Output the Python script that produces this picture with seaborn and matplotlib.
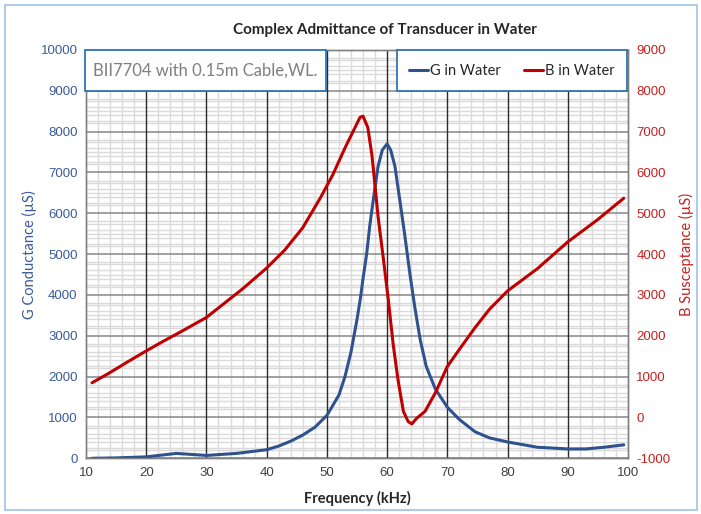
import matplotlib
matplotlib.use("Agg")
import matplotlib.pyplot as plt
from matplotlib.patches import Rectangle
from matplotlib.ticker import FixedLocator, MultipleLocator
from matplotlib.lines import Line2D
from matplotlib.font_manager import FontProperties
import seaborn as sns
import pandas as pd

# G (conductance) in water, uS
g_freq = [11, 15, 20, 25, 30, 35, 40, 42, 44, 46, 48, 50, 52, 53, 54, 55, 55.6, 56,
          56.6, 57.1, 57.7, 58.5, 59.2, 60, 60.6, 61.3, 62.1, 62.9, 63.8, 64.6, 65.5,
          66.5, 68, 70, 72, 74.6, 77, 80, 85, 90, 93, 96, 99.3]
g_vals = [0, 10, 35, 120, 70, 120, 210, 300, 420, 570, 760, 1050, 1550, 2000, 2600,
          3400, 3950, 4400, 5000, 5670, 6330, 7150, 7550, 7700, 7550, 7150, 6330, 5500,
          4500, 3700, 2900, 2250, 1700, 1250, 950, 650, 500, 400, 270, 230, 230, 270, 330]

# B (susceptance) in water, uS
b_freq = [11, 14, 17, 20, 23, 26, 30, 33, 36, 40, 43, 46, 49, 51, 53, 54.5, 55.5, 56,
          56.8, 57.5, 58.5, 59.4, 60.2, 61, 61.8, 62.7, 63.5, 64.1, 64.9, 66.3, 68, 70,
          72.4, 74.6, 77, 80, 85, 90, 95, 99.3]
b_vals = [850, 1100, 1370, 1630, 1880, 2120, 2450, 2800, 3150, 3660, 4100, 4650, 5400,
          5950, 6600, 7050, 7350, 7380, 7100, 6400, 4920, 3860, 2880, 1800, 930, 150,
          -100, -160, -20, 150, 600, 1250, 1750, 2200, 2650, 3100, 3650, 4300, 4850, 5370]

title = "Complex Admittance of Transducer in Water"
note = "BII7704 with 0.15m Cable,WL."

g_color = "#2f528f"
b_color = "#c00000"
box_edge = "#2e75b6"
g_text = "#3b5b9a"
b_text = "#c62020"

sns.set_style("white")
plt.rcParams['font.family'] = ['Lato', 'DejaVu Sans']
plt.rcParams['axes.unicode_minus'] = False

W, H = 701, 514
fig = plt.figure(figsize=(W / 100, H / 100), dpi=100)
ax = fig.add_axes([86 / W, 1 - 458.3 / H, (628 - 86) / W, (458.3 - 50) / H])
ax2 = ax.twinx()

df_g = pd.DataFrame({"f": g_freq, "v": g_vals})
df_b = pd.DataFrame({"f": b_freq, "v": b_vals})
sns.lineplot(data=df_g, x="f", y="v", ax=ax, color=g_color, linewidth=2.2, sort=False, zorder=3)
sns.lineplot(data=df_b, x="f", y="v", ax=ax2, color=b_color, linewidth=2.2, sort=False, zorder=3)

ax.set_xlim(10, 100)
ax.set_ylim(0, 10000)
ax2.set_ylim(-1000, 9000)
ax.xaxis.set_major_locator(MultipleLocator(10))
ax.xaxis.set_minor_locator(MultipleLocator(2))
ax.yaxis.set_major_locator(MultipleLocator(1000))
ax2.yaxis.set_major_locator(MultipleLocator(1000))
minor_y = sorted({v for v in range(0, 10001, 250)} | {v for v in range(0, 10001, 200)})
ax.yaxis.set_minor_locator(FixedLocator(minor_y))

ax.set_axisbelow(True)
ax.grid(axis='x', which='minor', color='#dadada', linewidth=1)
ax.grid(axis='y', which='minor', color='#dadada', linewidth=1)
ax.grid(axis='y', which='major', color='#868686', linewidth=1.1)
ax2.grid(False)
# dark vertical major grid drawn above the light horizontal grid
for xv in ax.get_xticks():
    if 10 < xv < 100:
        ax.axvline(xv, color='#2a2a2a', linewidth=1, zorder=1)

tick_fp = FontProperties(family=['Liberation Sans', 'DejaVu Sans'], size=9.5)
ax.tick_params(which='both', length=0, pad=6)
ax2.tick_params(which='both', length=0, pad=6)
for t in ax.get_xticklabels():
    t.set_fontproperties(tick_fp)
    t.set_color('#404040')
for t in ax.get_yticklabels():
    t.set_fontproperties(tick_fp)
    t.set_color(g_text)
for t in ax2.get_yticklabels():
    t.set_fontproperties(tick_fp)
    t.set_color(b_text)

for a in (ax, ax2):
    for s in a.spines.values():
        s.set_color('#808080')
        s.set_linewidth(1)

ax.set_xlabel("Frequency (kHz)", fontsize=10.5, fontweight='bold', labelpad=9)
ax.set_ylabel("G Conductance (µS)", fontsize=10.5, color=g_text)
ax.yaxis.set_label_coords(-0.09, 0.5)
ax2.set_ylabel("B Susceptance (µS)", fontsize=10.5, color=b_text)
ax2.yaxis.set_label_coords(1.094, 0.5)

fig.text(385 / W, 1 - 30 / H, title, ha='center', va='center', fontsize=11, fontweight='bold')

# outer frame
fig.patches.append(Rectangle((5 / W, 1 - 510 / H), 692 / W, 505 / H, transform=fig.transFigure,
                             fill=False, edgecolor='#9dc3e6', linewidth=1.2, zorder=0))
# note box
fig.patches.append(Rectangle((85 / W, 1 - 91 / H), (326 - 85) / W, 41 / H, transform=fig.transFigure,
                             facecolor='white', edgecolor=box_edge, linewidth=1.3, zorder=5))
fig.text(205 / W, 1 - 71 / H, note, ha='center', va='center', fontsize=12, color='#7f7f7f', zorder=6)
# legend box
fig.patches.append(Rectangle((397 / W, 1 - 91 / H), (627 - 397) / W, 41 / H, transform=fig.transFigure,
                             facecolor='white', edgecolor=box_edge, linewidth=1.3, zorder=5))
handles = [Line2D([], [], color=g_color, linewidth=2.2), Line2D([], [], color=b_color, linewidth=2.2)]
leg = fig.legend(handles, ["G in Water", "B in Water"], loc='center', ncol=2,
                 bbox_to_anchor=(512 / W, 1 - 71 / H), frameon=False, fontsize=10.5,
                 handlelength=1.3, handletextpad=0.15, columnspacing=1.6)
leg.set_zorder(6)

fig.savefig("out.png", dpi=100)
